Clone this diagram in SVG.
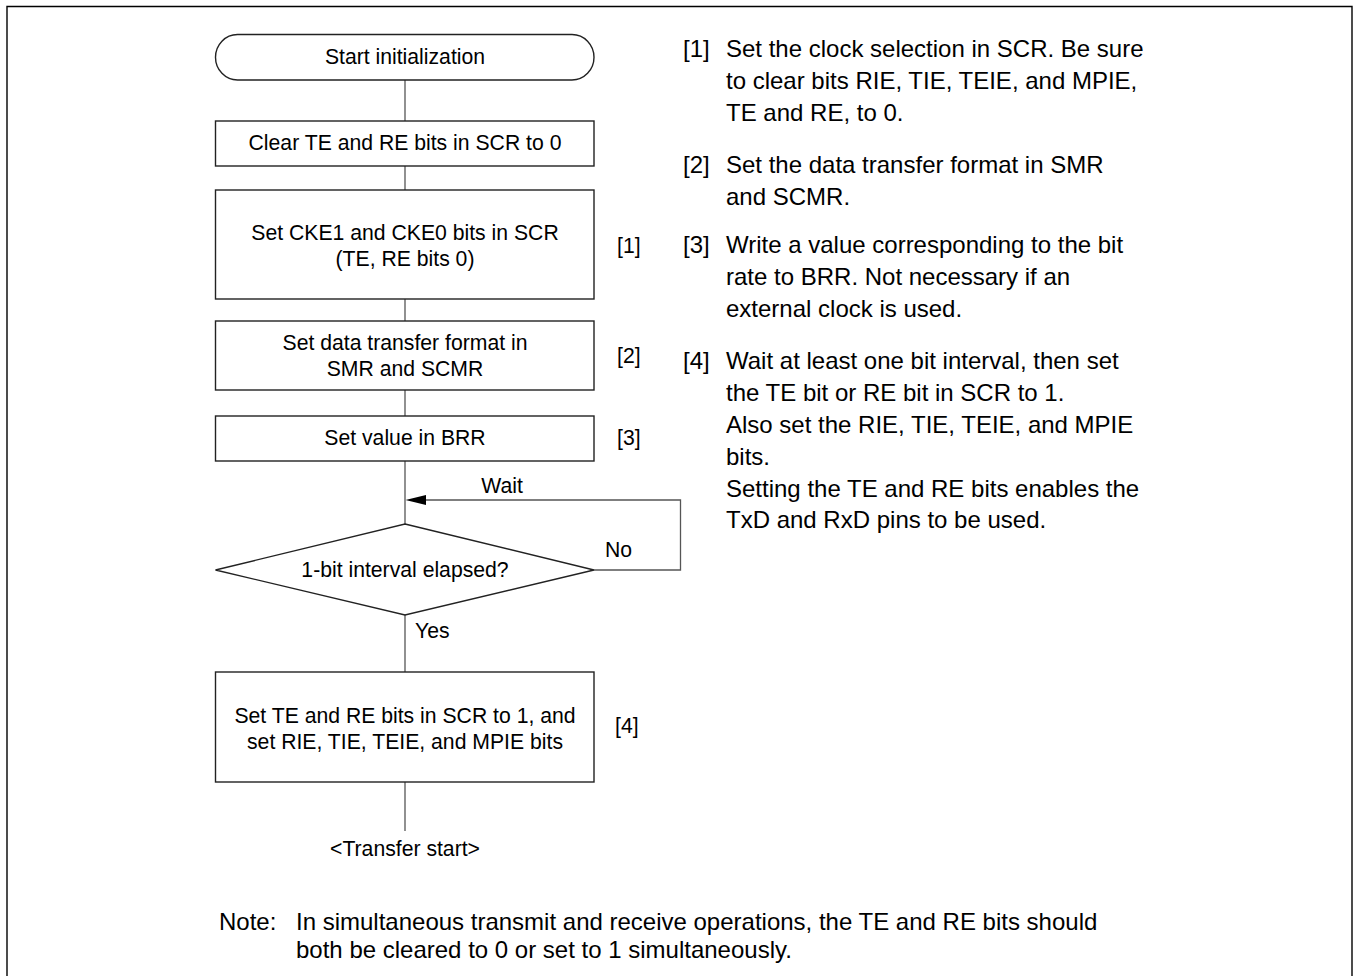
<svg xmlns="http://www.w3.org/2000/svg" width="1356" height="976" viewBox="0 0 1356 976">
<defs>
<style>
.shape{fill:#fff;stroke:#222;stroke-width:1.4}
.conn{fill:none;stroke:#555;stroke-width:1.3}
.t{font-family:"Liberation Sans",Arial,sans-serif;font-size:21.2px;fill:#000}
.c{text-anchor:middle}
.r{font-family:"Liberation Sans",Arial,sans-serif;font-size:24px;fill:#000}
</style>
</defs>
<rect width="1356" height="976" fill="#fff"/>
<path d="M7,976 V6.5 H1352 V976" fill="none" stroke="#000" stroke-width="1.4"/>

<g id="connectors">
<line class="conn" x1="405" y1="80" x2="405" y2="121"/>
<line class="conn" x1="405" y1="166" x2="405" y2="190"/>
<line class="conn" x1="405" y1="299" x2="405" y2="321"/>
<line class="conn" x1="405" y1="390" x2="405" y2="416"/>
<line class="conn" x1="405" y1="461" x2="405" y2="524"/>
<line class="conn" x1="405" y1="615" x2="405" y2="672"/>
<line class="conn" x1="405" y1="782" x2="405" y2="831"/>
<path class="conn" d="M594,570 H680.5 V500 H426" stroke="#222"/>
<path d="M405.5,500 L426,495 L426,505 Z" fill="#000"/>
<text class="t c" x="502" y="493">Wait</text>
<text class="t" x="605" y="557">No</text>
<text class="t" x="415" y="638">Yes</text>
</g>

<g id="start">
<rect class="shape" x="215.5" y="34.5" width="378.5" height="45.5" rx="22" ry="22.75"/>
<text class="t c" x="405" y="64">Start initialization</text>
</g>
<g id="clear">
<rect class="shape" x="215.5" y="121" width="378.5" height="45"/>
<text class="t c" x="405" y="150">Clear TE and RE bits in SCR to 0</text>
</g>
<g id="cke">
<rect class="shape" x="215.5" y="190" width="378.5" height="109"/>
<text class="t c" x="405" y="240">Set CKE1 and CKE0 bits in SCR</text>
<text class="t c" x="405" y="266">(TE, RE bits 0)</text>
<text class="t" x="617" y="253">[1]</text>
</g>
<g id="format">
<rect class="shape" x="215.5" y="321" width="378.5" height="69"/>
<text class="t c" x="405" y="350">Set data transfer format in</text>
<text class="t c" x="405" y="376">SMR and SCMR</text>
<text class="t" x="617" y="363">[2]</text>
</g>
<g id="brr">
<rect class="shape" x="215.5" y="416" width="378.5" height="45"/>
<text class="t c" x="405" y="445">Set value in BRR</text>
<text class="t" x="617" y="445">[3]</text>
</g>
<g id="decision">
<polygon class="shape" points="405,524 594,570 405,615 215.5,570"/>
<text class="t c" x="405" y="577">1-bit interval elapsed?</text>
</g>
<g id="setbits">
<rect class="shape" x="215.5" y="672" width="378.5" height="110"/>
<text class="t c" x="405" y="723">Set TE and RE bits in SCR to 1, and</text>
<text class="t c" x="405" y="749">set RIE, TIE, TEIE, and MPIE bits</text>
<text class="t" x="615" y="733">[4]</text>
</g>
<g id="end">
<text class="t c" x="405" y="856">&lt;Transfer start&gt;</text>
</g>

<g id="notes">
<text class="r" x="683" y="57">[1]</text>
<text class="r" x="726" y="57">Set the clock selection in SCR. Be sure</text>
<text class="r" x="726" y="89">to clear bits RIE, TIE, TEIE, and MPIE,</text>
<text class="r" x="726" y="121">TE and RE, to 0.</text>
<text class="r" x="683" y="173">[2]</text>
<text class="r" x="726" y="173">Set the data transfer format in SMR</text>
<text class="r" x="726" y="205">and SCMR.</text>
<text class="r" x="683" y="253">[3]</text>
<text class="r" x="726" y="253">Write a value corresponding to the bit</text>
<text class="r" x="726" y="285">rate to BRR. Not necessary if an</text>
<text class="r" x="726" y="317">external clock is used.</text>
<text class="r" x="683" y="369">[4]</text>
<text class="r" x="726" y="369">Wait at least one bit interval, then set</text>
<text class="r" x="726" y="401">the TE bit or RE bit in SCR to 1.</text>
<text class="r" x="726" y="433">Also set the RIE, TIE, TEIE, and MPIE</text>
<text class="r" x="726" y="465">bits.</text>
<text class="r" x="726" y="497">Setting the TE and RE bits enables the</text>
<text class="r" x="726" y="528">TxD and RxD pins to be used.</text>
<text class="r" x="219" y="930">Note:</text>
<text class="r" x="296" y="930">In simultaneous transmit and receive operations, the TE and RE bits should</text>
<text class="r" x="296" y="958">both be cleared to 0 or set to 1 simultaneously.</text>
</g>
</svg>
